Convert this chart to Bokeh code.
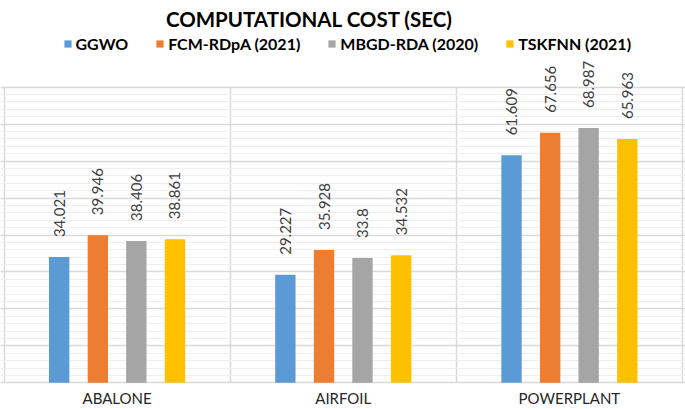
import math
from bokeh.plotting import figure
from bokeh.models import (Range1d, SingleIntervalTicker, FixedTicker, Legend,
                          LegendItem, ColumnDataSource, Label)
from bokeh.core.properties import value
from bokeh.embed import file_html
from bokeh.resources import INLINE

# ---------------- data ----------------
categories = ["ABALONE", "AIRFOIL", "POWERPLANT"]
series_names = ["GGWO", "FCM-RDpA (2021)", "MBGD-RDA (2020)", "TSKFNN (2021)"]
ggwo = [34.021, 29.227, 61.609]
fcm_rdpa = [39.946, 35.928, 67.656]
mbgd_rda = [38.406, 33.8, 68.987]
tskfnn = [38.861, 34.532, 65.963]
title_text = "COMPUTATIONAL COST (SEC)"
y_max = 80

# ---------------- layout (pixels inside the figure) ----------------
W, H = 685, 409
x_left_px, x_right_px = 3.5, 682        # category block edges
y_zero_px, y_top_px = 382.3, 86.7        # value 0 and value y_max (from top)
ppx = (x_right_px - x_left_px) / len(categories)
ppy = (y_zero_px - y_top_px) / y_max
x0 = -x_left_px / ppx
x1 = len(categories) + (W - x_right_px) / ppx
y0 = -(H - y_zero_px) / ppy
y1 = y_max + y_top_px / ppy

def px_x(px):
    return x0 + px / ppx

def px_y(py):
    return y1 - py / ppy

colors = ["#5B9BD5", "#ED7D31", "#A5A5A5", "#FFC000"]
offsets = [-0.256, -0.085, 0.085, 0.256]
bar_width = 0.09

p = figure(width=W, height=H, x_range=Range1d(x0, x1), y_range=Range1d(y0, y1),
           output_backend="svg", toolbar_location=None,
           min_border_left=0, min_border_right=0, min_border_top=0, min_border_bottom=0)
p.title.visible = False
p.xaxis.visible = False
p.yaxis.visible = False
p.background_fill_color = "white"
p.border_fill_color = "white"
p.outline_line_color = None

p.ygrid.ticker = SingleIntervalTicker(interval=10, num_minor_ticks=5)
p.ygrid.bounds = (0, y_max)
p.ygrid.grid_line_color = "#D9D9D9"
p.ygrid.grid_line_width = 1.5
p.ygrid.minor_grid_line_color = "#EEEEEE"
p.ygrid.minor_grid_line_width = 1

p.xgrid.ticker = FixedTicker(ticks=list(range(0, len(categories) + 1)))
p.xgrid.cross_bounds = (0, y_max)
p.xgrid.grid_line_color = "#D9D9D9"
p.xgrid.grid_line_width = 1.5

centers = [i + 0.5 for i in range(len(categories))]

# category labels
p.text(x=centers, y=[0] * len(categories), text=categories, text_align="center",
       text_baseline="alphabetic", y_offset=15, text_font=value("Lato"),
       text_font_size="15px", text_color="#262626")

items = []
for name, vals, col, off in zip(series_names, [ggwo, fcm_rdpa, mbgd_rda, tskfnn], colors, offsets):
    src = ColumnDataSource(dict(
        x=[c + off for c in centers],
        top=vals,
        label=[f"{v:g}" for v in vals],
    ))
    r = p.vbar(x="x", top="top", width=bar_width, fill_color=col, line_color=None, source=src)
    p.text(x="x", y="top", text="label", angle=math.pi / 2, text_align="left",
           text_baseline="middle", y_offset=-20, text_font=value("Lato"),
           text_font_size="15px", text_color="#404040", source=src)
    items.append(LegendItem(label=name, renderers=[r]))

# title
title = Label(x=px_x(309), y=px_y(18), text=title_text, text_align="center",
              text_baseline="alphabetic", text_font="Lato", text_font_size="20.5px",
              text_font_style="bold", text_color="#000000")
p.add_layout(title)

legend = Legend(items=items, orientation="horizontal", location=(62.5, H - 53),
                glyph_width=9, glyph_height=9, label_standoff=4, spacing=27,
                label_height=16, label_text_font="Lato", label_text_font_style="bold",
                label_text_font_size="16px", label_text_color="#000000",
                padding=0, margin=0, border_line_alpha=0, background_fill_alpha=0)
p.add_layout(legend, "center")

open("out.html", "w").write(file_html(p, INLINE))
